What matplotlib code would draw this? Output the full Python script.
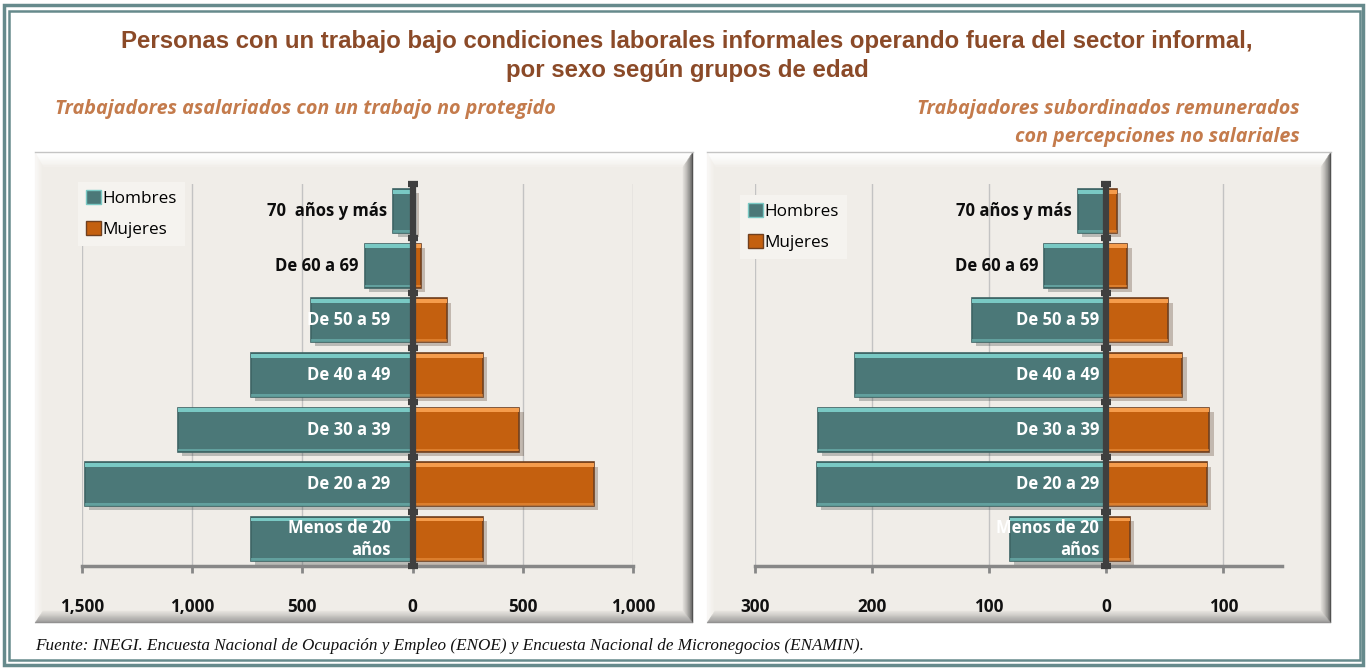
import numpy as np
import matplotlib
matplotlib.use("Agg")
import matplotlib.pyplot as plt
from matplotlib.patches import Rectangle, Polygon, Patch
from matplotlib.colors import to_rgb
from matplotlib import patheffects as pe

# --- data (miles de personas), order: bottom -> top
groups_left = ["Menos de 20\naños", "De 20 a 29", "De 30 a 39", "De 40 a 49",
               "De 50 a 59", "De 60 a 69", "70  años y más"]
groups_right = ["Menos de 20\naños", "De 20 a 29", "De 30 a 39", "De 40 a 49",
                "De 50 a 59", "De 60 a 69", "70 años y más"]

men_asal = [735, 1486, 1064, 735, 463, 218, 87]
women_asal = [320, 822, 485, 320, 156, 38, 8]

men_subor = [82, 247, 246, 215, 115, 53, 24]
women_subor = [20, 86, 88, 65, 53, 18, 9]

ticks_left = [-1500, -1000, -500, 0, 500, 1000]
ticks_right = [-300, -200, -100, 0, 100]

title = ("Personas con un trabajo bajo condiciones laborales informales operando fuera del sector informal,\n"
         "por sexo según grupos de edad")
sub_left = "Trabajadores asalariados con un trabajo no protegido"
sub_right = "Trabajadores subordinados remunerados\ncon percepciones no salariales"
footer = ("Fuente: INEGI. Encuesta Nacional de Ocupación y Empleo (ENOE) y "
          "Encuesta Nacional de Micronegocios (ENAMIN).")

W, H = 1368, 669
TEAL, TEAL_HI, TEAL_ED = "#4b7878", "#79c9c4", "#3d6464"
ORANGE, ORANGE_HI, ORANGE_ED = "#c4600f", "#f59c4c", "#70401f"
BASE = "#f0ede8"
NARROW = ["Open Sans", "DejaVu Sans"]

fig = plt.figure(figsize=(W / 100, H / 100), dpi=100)
fig.patch.set_facecolor("white")

bg = fig.add_axes([0, 0, 1, 1], zorder=-5)
bg.set_xlim(0, W)
bg.set_ylim(H, 0)
bg.axis("off")


def mix(c1, c2, t):
    a, b = np.array(to_rgb(c1)), np.array(to_rgb(c2))
    return tuple(a + (b - a) * t)


def bevel_panel(ax, x0, y0, x1, y1):
    ax.add_patch(Rectangle((x0, y0), x1 - x0, y1 - y0, color=BASE, lw=0))
    L, T, R, B = 8, 15, 10, 12
    n = 14
    for k in range(n):
        a, b = k / n, (k + 1) / n
        oa = (x0 + L * a, y0 + T * a, x1 - R * a, y1 - B * a)
        ob = (x0 + L * b, y0 + T * b, x1 - R * b, y1 - B * b)
        sides = [
            ([(oa[0], oa[1]), (oa[2], oa[1]), (ob[2], ob[1]), (ob[0], ob[1])],
             mix("#ffffff", BASE, a ** 2)),
            ([(oa[0], oa[1]), (ob[0], ob[1]), (ob[0], ob[3]), (oa[0], oa[3])],
             mix("#faf9f7", BASE, a)),
            ([(oa[2], oa[1]), (oa[2], oa[3]), (ob[2], ob[3]), (ob[2], ob[1])],
             mix("#353535", "#e6e3de", a ** 0.6)),
            ([(oa[0], oa[3]), (oa[2], oa[3]), (ob[2], ob[3]), (ob[0], ob[3])],
             mix("#8a8a8a", "#e9e6e1", a ** 0.8)),
        ]
        for pts, col in sides:
            ax.add_patch(Polygon(pts, closed=True, color=col, lw=0.3))
    ax.plot([x0, x1], [y0, y0], color="#c4c4c4", lw=1)


# outer frame
bg.add_patch(Rectangle((4, 5), W - 9, H - 9, fill=False, ec="#668a8c", lw=2.5))
bg.add_patch(Rectangle((9, 11), W - 17, H - 20, fill=False, ec="#668a8c", lw=1.8))

bevel_panel(bg, 35, 152, 693, 623)
bevel_panel(bg, 707, 152, 1331, 623)

bg.text(687, 56, title, ha="center", va="center", fontsize=17.3, fontweight="bold",
        color="#8b4a28", family="Liberation Sans", linespacing=1.3)
bg.text(55, 109, sub_left, ha="left", va="center", fontsize=14.2, fontweight="bold",
        fontstyle="italic", color="#c47b4c", family=NARROW)
bg.text(1300, 123, sub_right, ha="right", va="center", fontsize=14.2, fontweight="bold",
        fontstyle="italic", color="#c47b4c", family=NARROW, linespacing=1.5)
bg.text(35, 646, footer, ha="left", va="center", fontsize=12.3, fontstyle="italic",
        color="#111111", family="Liberation Serif")


def pyramid(px0, px1, xmin, xmax, men, women, groups, ticks, inside_dx, legend_box):
    top, bottom = 183.7, 566.3
    ax = fig.add_axes([px0 / W, 1 - bottom / H, (px1 - px0) / W, (bottom - top) / H])
    ax.set_facecolor("none")
    y = np.arange(len(groups))
    men = np.asarray(men, float)
    women = np.asarray(women, float)
    h = 0.8
    shadow = [pe.SimplePatchShadow(offset=(3, -3), alpha=0.25), pe.Normal()]
    for vals, sign, fc, hi, ec in [(men, -1, TEAL, TEAL_HI, TEAL_ED),
                                   (women, 1, ORANGE, ORANGE_HI, ORANGE_ED)]:
        bars = ax.barh(y, sign * vals, height=h, color=fc, edgecolor=ec, lw=1.2, zorder=2)
        for b in bars:
            b.set_path_effects(shadow)
        ax.barh(y + h / 2 - 0.045, sign * vals, height=0.07, color=hi, lw=0, zorder=3)
        ax.barh(y - h / 2 + 0.03, sign * vals, height=0.05, color=hi, lw=0, alpha=0.5, zorder=3)

    ax.set_xlim(xmin, xmax)
    ax.set_ylim(-0.5, len(groups) - 0.5)
    ax.set_xticks(ticks)
    ax.set_xticklabels([f"{abs(t):,}" for t in ticks], fontweight="bold", fontsize=12.3,
                       family=NARROW, color="#111111")
    ax.set_yticks([])
    ax.grid(axis="x", color="#c3c3c3", lw=1, zorder=0)
    ax.set_axisbelow(True)
    for s in ["top", "left", "right"]:
        ax.spines[s].set_visible(False)
    ax.spines["bottom"].set_color("#878787")
    ax.spines["bottom"].set_linewidth(2.5)
    ax.tick_params(axis="x", direction="out", length=5, width=2, color="#878787", pad=18)

    # central axis with tick caps
    ax.axvline(0, color="#3f3f3f", lw=4.5, zorder=5)
    ax.plot(np.zeros(len(groups) + 1), np.arange(len(groups) + 1) - 0.5, ls="none",
            marker="_", ms=7.5, mew=4.5, color="#3f3f3f", zorder=6, clip_on=False)

    px_per_unit = (px1 - px0) / (xmax - xmin)
    for yi, m, g in zip(y, men, groups):
        if m * px_per_unit > 85:
            ax.annotate(g, xy=(0, yi), xytext=(inside_dx, 0), textcoords="offset pixels",
                        ha="right", va="center", color="white", fontweight="bold",
                        fontsize=12, family=NARROW, zorder=7, linespacing=1.25)
        else:
            ax.annotate(g, xy=(-m, yi), xytext=(-6, 0), textcoords="offset pixels",
                        ha="right", va="center", color="#0d0d0d", fontweight="bold",
                        fontsize=12, family=NARROW, zorder=7)

    handles = [Patch(facecolor=TEAL, edgecolor=TEAL_HI, label="Hombres"),
               Patch(facecolor=ORANGE, edgecolor=ORANGE_ED, label="Mujeres")]
    bx, by = legend_box
    fig.legend(handles=handles, loc="upper left",
               bbox_to_anchor=(bx / W, 1 - by / H), frameon=True,
               facecolor="#f5f3ef", edgecolor="none", framealpha=1,
               prop={"family": NARROW, "size": 12.3}, handlelength=0.9,
               handleheight=0.9, handletextpad=0.1, labelspacing=0.85,
               borderpad=0.45, borderaxespad=0, fancybox=False)
    return ax


pyramid(82, 633, -1500, 1000, men_asal, women_asal, groups_left, ticks_left, -22,
        (78, 182))
pyramid(755, 1282, -300, 150, men_subor, women_subor, groups_right, ticks_right, -7,
        (740, 195))

fig.savefig("out.png", dpi=100)
